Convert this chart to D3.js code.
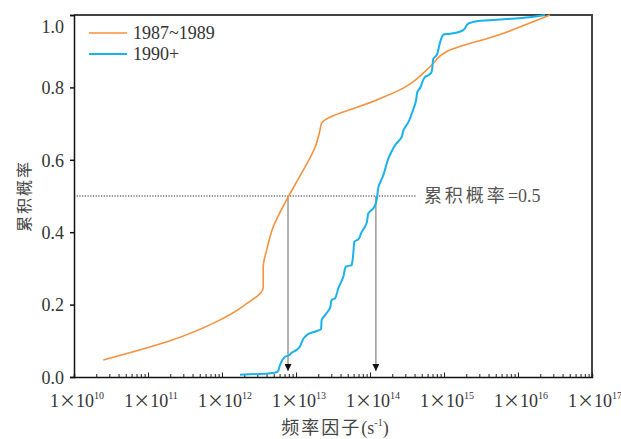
<!DOCTYPE html>
<html lang="zh">
<head>
<meta charset="utf-8">
<script src="https://cdn.jsdelivr.net/npm/d3@7/dist/d3.min.js"></script>
</head>
<body style="margin:0;background:#fff">
<svg width="621" height="439" style="display:block"></svg>
<script>
// series names
var seriesNames = ["1987~1989", "1990+"];

// 1987~1989 : frequency factor (s^-1) and cumulative probability
var oldX = [2.49e10, 1.98e11, 8.47e11, 1.94e12, 3.61e12, 3.61e12, 4.02e12, 4.93e12, 7.87e12,
            1.19e13, 1.86e13, 2.11e13, 2.22e13, 1.23e14, 2.82e14, 3.85e14, 6.47e14, 1.14e15,
            5.71e15, 1.45e16, 2.7e16];
var oldP = [0.047, 0.100, 0.153, 0.196, 0.248, 0.305, 0.351, 0.415, 0.498,
            0.563, 0.641, 0.682, 0.701, 0.765, 0.798, 0.816, 0.857, 0.901,
            0.946, 0.978, 1.0];

// 1990+
var newX = [1.75e12, 4.23e12, 5.66e12, 6.08e12, 7.10e12, 7.87e12, 8.75e12, 1.02e13, 1.13e13,
            1.19e13, 1.32e13, 1.55e13, 1.91e13, 2.18e13, 2.22e13, 2.47e13, 2.88e13, 3.03e13,
            3.36e13, 3.73e13, 4.36e13, 4.70e13, 5.66e13, 5.95e13, 6.14e13, 6.95e13, 7.73e13,
            8.56e13, 9.02e13, 9.48e13, 1.11e14, 1.23e14, 1.30e14, 1.51e14, 1.77e14, 2.18e14,
            2.68e14, 2.82e14, 3.30e14, 3.66e14, 4.19e14, 4.36e14, 4.74e14, 5.54e14, 6.14e14,
            6.82e14, 7.17e14, 7.96e14, 8.63e14, 9.02e14, 9.79e14, 1.21e15, 1.82e15, 2.13e15,
            2.77e15, 5.15e15, 1.45e16, 2.32e16];
var newP = [0.006, 0.010, 0.015, 0.033, 0.056, 0.059, 0.067, 0.075, 0.084,
            0.095, 0.111, 0.121, 0.127, 0.132, 0.157, 0.171, 0.190, 0.213,
            0.217, 0.245, 0.277, 0.305, 0.309, 0.342, 0.374, 0.380, 0.401,
            0.415, 0.426, 0.452, 0.466, 0.489, 0.525, 0.557, 0.603, 0.640,
            0.663, 0.681, 0.704, 0.727, 0.764, 0.787, 0.798, 0.829, 0.833,
            0.843, 0.879, 0.889, 0.916, 0.930, 0.946, 0.948, 0.958, 0.976,
            0.983, 0.987, 0.994, 1.0];

// values where each curve reaches 0.5
var medianX = [7.8e12, 1.2e14];
var medianP = 0.5;
var refLineEnd = 4.3e14;

var yTicks = [0, 0.2, 0.4, 0.6, 0.8, 1.0];
var xExponents = [10, 11, 12, 13, 14, 15, 16, 17];

var SERIF = "'Liberation Serif', 'Noto Sans CJK SC', serif";
var CJK = "'Noto Sans CJK SC', sans-serif";

var margin = {top: 15, right: 29, bottom: 62, left: 74};
var width = 621 - margin.left - margin.right;
var height = 439 - margin.top - margin.bottom;

var svg = d3.select("svg");
var defs = svg.append("defs");
defs.append("marker")
    .attr("id", "arrow")
    .attr("viewBox", "0 0 10 10")
    .attr("refX", 10).attr("refY", 5)
    .attr("markerWidth", 7).attr("markerHeight", 7)
    .attr("markerUnits", "userSpaceOnUse")
    .attr("orient", "auto")
    .append("path")
    .attr("d", "M0,0 L10,5 L0,10 Z")
    .attr("fill", "#111");

var g = svg.append("g")
    .attr("transform", "translate(" + margin.left + "," + margin.top + ")");

var x = d3.scaleLog().domain([1e10, 1e17]).range([0, width]);
var y = d3.scaleLinear().domain([0, 1]).range([height, 0]);

// frame: top & right
g.append("path")
    .attr("d", "M0,0H" + width + "V" + height)
    .attr("fill", "none")
    .attr("stroke", "#444")
    .attr("stroke-width", 2);

// x axis, ticks pointing inward
var xAxis = g.append("g")
    .attr("transform", "translate(0," + height + ")")
    .call(d3.axisBottom(x).tickValues(x.ticks()).tickSize(-3).tickFormat(""));
xAxis.select(".domain").attr("stroke", "#111").attr("stroke-width", 1.5);
xAxis.selectAll(".tick line").attr("stroke", "#222")
    .attr("y2", function(d) { return Math.abs(Math.log10(d) - Math.round(Math.log10(d))) < 1e-9 ? -4.5 : -3; });

xExponents.forEach(function(e) {
    var t = g.append("text")
        .attr("x", x(Math.pow(10, e)) + 3)
        .attr("y", height + 30)
        .attr("text-anchor", "middle")
        .attr("font-size", 18)
        .attr("fill", "#333")
        .attr("font-family", SERIF)
        .style("font-family", SERIF);
    t.append("tspan").text("1");
    t.append("tspan").style("font-family", CJK).attr("font-size", 17).text("×");
    t.append("tspan").text("10");
    t.append("tspan").attr("dy", -8).attr("font-size", 10).text(e);
});

// y axis, ticks outward
var yAxis = g.append("g")
    .call(d3.axisLeft(y).tickValues(yTicks).tickSize(4).tickPadding(6)
        .tickFormat(d3.format(".1f")));
yAxis.attr("font-family", SERIF).attr("font-size", 18);
yAxis.select(".domain").attr("stroke", "#111").attr("stroke-width", 1.5);
yAxis.selectAll(".tick line").attr("stroke", "#111").attr("stroke-width", 1.5);
yAxis.selectAll(".tick text")
    .attr("font-family", SERIF)
    .style("font-family", SERIF)
    .attr("font-size", 18)
    .attr("fill", "#333")
    .attr("dy", function(d) { return d === 1 ? "0.95em" : "0.35em"; });

// axis titles
g.append("text")
    .attr("transform", "translate(" + (-50) + "," + (height / 2) + ") rotate(-90)")
    .attr("text-anchor", "middle")
    .attr("dy", "0.35em")
    .attr("font-size", 16)
    .attr("letter-spacing", 2)
    .attr("fill", "#444")
    .style("font-family", CJK)
    .text("累积概率");

var xt = g.append("text")
    .attr("x", width / 2 + 2)
    .attr("y", height + 57)
    .attr("text-anchor", "middle")
    .attr("font-size", 18)
    .attr("fill", "#444")
    .style("font-family", SERIF);
xt.append("tspan").attr("letter-spacing", 2).text("频率因子");
xt.append("tspan").text("(s");
xt.append("tspan").attr("dy", -8).attr("font-size", 10).text("-1");
xt.append("tspan").attr("dy", 8).text(")");

// 0.5 reference line
g.append("line")
    .attr("x1", 0).attr("x2", x(refLineEnd))
    .attr("y1", y(medianP)).attr("y2", y(medianP))
    .attr("stroke", "#222")
    .attr("stroke-width", 1.2)
    .attr("stroke-dasharray", "1.2,1.5");
g.append("text")
    .attr("x", x(refLineEnd) + 7)
    .attr("y", y(medianP) + 6)
    .attr("font-size", 18)
    .attr("fill", "#555")
    .style("font-family", SERIF)
    .html("<tspan letter-spacing='3'>累积概率</tspan>=0.5");

// vertical arrows down from the median crossings
g.selectAll(".med")
    .data(medianX)
    .enter().append("line")
    .attr("class", "med")
    .attr("x1", function(d) { return x(d); })
    .attr("x2", function(d) { return x(d); })
    .attr("y1", y(medianP))
    .attr("y2", height - 6)
    .attr("stroke", "#999")
    .attr("stroke-width", 1.5)
    .attr("marker-end", "url(#arrow)");

// curves
var line = d3.line()
    .x(function(d) { return x(d[0]); })
    .y(function(d) { return y(d[1]); })
    .curve(d3.curveMonotoneY);

var colors = ["#f7913d", "#19b2ea"];
var series = [d3.zip(oldX, oldP), d3.zip(newX, newP)];

g.selectAll(".curve")
    .data(series)
    .enter().append("path")
    .attr("class", "curve")
    .attr("d", line)
    .attr("fill", "none")
    .attr("stroke", function(d, i) { return colors[i]; })
    .attr("stroke-width", function(d, i) { return i === 0 ? 1.6 : 2; });

// legend
var legend = g.selectAll(".legend")
    .data(seriesNames)
    .enter().append("g")
    .attr("class", "legend")
    .attr("transform", function(d, i) { return "translate(15," + (18 + i * 21) + ")"; });
legend.append("line")
    .attr("x1", 0).attr("x2", 38)
    .attr("stroke", function(d, i) { return colors[i]; })
    .attr("stroke-width", function(d, i) { return i === 0 ? 1.6 : 2; });
legend.append("text")
    .attr("x", 44)
    .attr("dy", "0.35em")
    .attr("font-size", 18)
    .attr("fill", "#333")
    .style("font-family", SERIF)
    .text(function(d) { return d; });
</script>
</body>
</html>
